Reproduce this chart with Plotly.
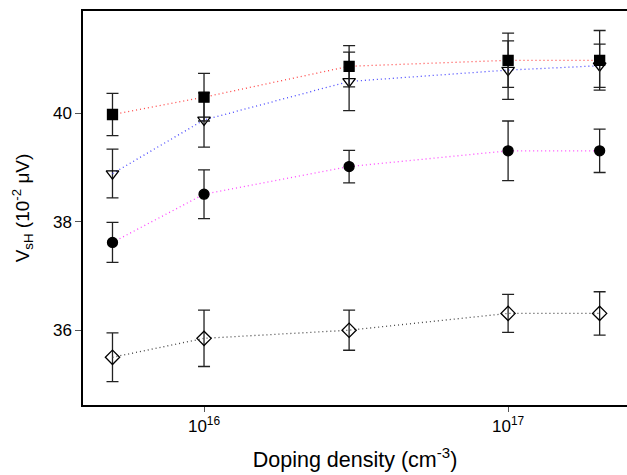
import plotly.graph_objects as go

doping = [5e15, 1e16, 3e16, 1e17, 2e17]

sq_vals = [39.98, 40.30, 40.87, 40.98, 40.98]
sq_err = [0.39, 0.44, 0.38, 0.50, 0.55]

tri_vals = [38.89, 39.88, 40.59, 40.80, 40.88]
tri_err = [0.45, 0.50, 0.54, 0.54, 0.40]

circ_vals = [37.62, 38.51, 39.02, 39.31, 39.31]
circ_err = [0.37, 0.45, 0.30, 0.55, 0.40]

dia_vals = [35.50, 35.85, 36.00, 36.31, 36.31]
dia_err = [0.45, 0.52, 0.37, 0.35, 0.40]

x_tickvals = [1e16, 1e17]
x_ticktext = ["10<sup>16</sup>", "10<sup>17</sup>"]
y_tickvals = [36, 38, 40]

series = [
    (dia_vals, dia_err, "#444444", "diamond-open", 11),
    (circ_vals, circ_err, "#ff44ff", "circle", 10),
    (tri_vals, tri_err, "#4444ff", "triangle-down-open", 11),
    (sq_vals, sq_err, "#ff4444", "square", 10),
]

fig = go.Figure()
for vals, err, lc, sym, sz in series:
    fig.add_trace(go.Scatter(
        x=doping, y=vals, mode="lines+markers",
        line=dict(color=lc, width=1.3, dash="1px,3px"),
        marker=dict(symbol=sym, size=sz, color="black",
                    line=dict(color="black", width=1.3)),
        error_y=dict(type="data", array=err, visible=True,
                     color="#222222", thickness=1.3, width=6),
        showlegend=False,
    ))

font = "Liberation Sans, Arial, Helvetica, sans-serif"
fig.update_layout(
    width=627, height=475,
    margin=dict(l=83, r=0, t=11, b=70),
    paper_bgcolor="white", plot_bgcolor="white",
    font=dict(family=font, size=17, color="black"),
    xaxis=dict(
        type="log", range=[15.602, 17.391],
        tickvals=x_tickvals, ticktext=x_ticktext,
        ticks="outside", ticklen=5, tickcolor="#555555", tickwidth=1,
        showline=True, linecolor="black", linewidth=1.5, mirror=True,
        showgrid=False, zeroline=False,
        title=dict(text="Doping density (cm<sup>-3</sup>)", font=dict(size=21.5), standoff=17),
    ),
    yaxis=dict(
        range=[34.62, 41.89],
        tickvals=y_tickvals,
        ticks="outside", ticklen=6, tickcolor="#555555", tickwidth=1,
        showline=True, linecolor="black", linewidth=1.5, mirror=False,
        showgrid=False, zeroline=False,
        title=dict(text="V<sub>sH</sub> (10<sup>-2</sup> μV)", font=dict(size=19), standoff=18),
    ),
)

fig.write_html(
    "out.html",
    config={"displayModeBar": False},
    post_script="document.body.style.margin='0';document.body.style.overflow='hidden';",
)
